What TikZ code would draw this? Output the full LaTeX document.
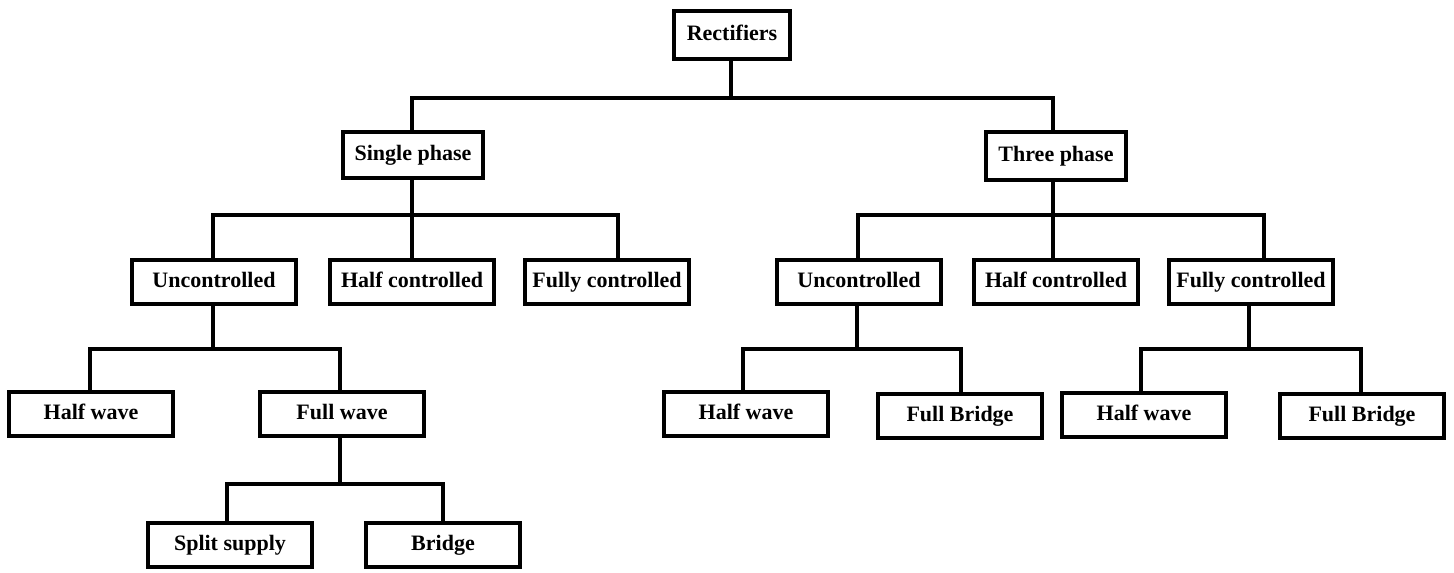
\documentclass[tikz,border=0pt]{standalone}
\usepackage{fontspec}
\setmainfont{Liberation Serif}
\begin{document}
\begin{tikzpicture}[x=0.5pt,y=-0.5pt,
  box/.style={draw, line width=2.3pt, inner sep=0pt, minimum width=82pt, minimum height=22pt, text height=7.6pt, text depth=2.4pt, font=\fontsize{11}{13}\selectfont\bfseries},
  conn/.style={line width=2.3pt}]
\useasboundingbox (0,0) rectangle (1454,572);
% level 0/1
\node[box, minimum width=58pt, minimum height=24pt] (rect) at (732,35) {Rectifiers};
\node[box, minimum width=70pt, minimum height=23pt] (sp) at (413,155) {Single phase};
\node[box, minimum width=70pt, minimum height=24pt] (tp) at (1056,156) {Three phase};
% level 2
\node[box] (unL) at (214,282) {Uncontrolled};
\node[box] (hcL) at (412,282) {Half controlled};
\node[box] (fcL) at (607,282) {Fully controlled};
\node[box] (unR) at (859,282) {Uncontrolled};
\node[box] (hcR) at (1056,282) {Half controlled};
\node[box] (fcR) at (1251,282) {Fully controlled};
% level 3
\node[box] (hwL) at (91,414) {Half wave};
\node[box] (fw) at (342,414) {Full wave};
\node[box] (hwM) at (746,414) {Half wave};
\node[box] (fbM) at (960,416) {Full Bridge};
\node[box] (hwR) at (1144,415) {Half wave};
\node[box] (fbR) at (1362,416) {Full Bridge};
% level 4
\node[box] (ss) at (230,545) {Split supply};
\node[box, minimum width=77pt] (br) at (443,545) {Bridge};
% bus coordinates
\coordinate (b0) at (731,98);
\coordinate (b1) at (412,215);
\coordinate (b2) at (1053,215);
\coordinate (b3) at (213,349);
\coordinate (b4) at (857,349);
\coordinate (b5) at (1249,349);
\coordinate (b6) at (340,484);
% connectors
\draw[conn] (rect.south -| b0) -- (b0);
\draw[conn] (sp.north -| b1) |- (b0) -| (tp.north -| b2);
\draw[conn] (sp.south -| b1) -- (b1);
\draw[conn] (unL.north -| 213,0) |- (b1) -| (fcL.north -| 618,0);
\draw[conn] (hcL.north -| b1) -- (b1);
\draw[conn] (tp.south -| b2) -- (b2);
\draw[conn] (unR.north -| 858,0) |- (b2) -| (fcR.north -| 1264,0);
\draw[conn] (hcR.north -| b2) -- (b2);
\draw[conn] (unL.south -| b3) -- (b3);
\draw[conn] (hwL.north -| 90,0) |- (b3) -| (fw.north -| b6);
\draw[conn] (unR.south -| b4) -- (b4);
\draw[conn] (hwM.north -| 743,0) |- (b4) -| (fbM.north -| 961,0);
\draw[conn] (fcR.south -| b5) -- (b5);
\draw[conn] (hwR.north -| 1141,0) |- (b5) -| (fbR.north -| 1361,0);
\draw[conn] (fw.south -| b6) -- (b6);
\draw[conn] (ss.north -| 227,0) |- (b6) -| (br.north -| 443,0);
\end{tikzpicture}
\end{document}
